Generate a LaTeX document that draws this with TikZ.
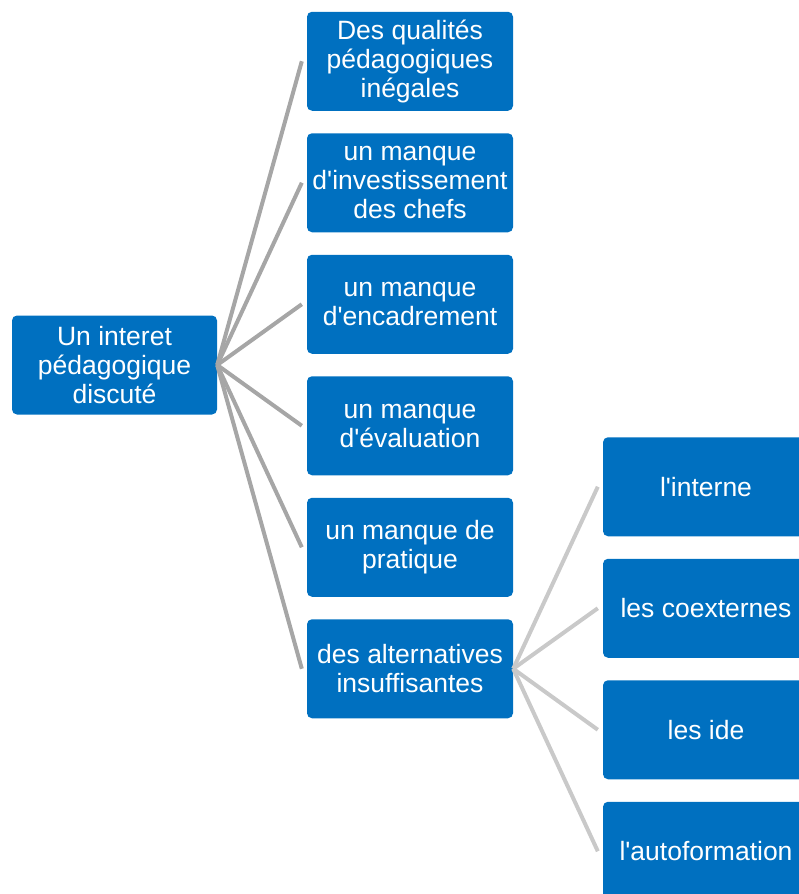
\documentclass[tikz,border=0pt]{standalone}
\usepackage{fontspec}
\setmainfont{Liberation Sans}[Ligatures=TeXOff]
\definecolor{boxblue}{HTML}{0070C0}
\definecolor{lineone}{HTML}{A6A6A6}
\definecolor{linetwo}{HTML}{C9C9C9}
\begin{document}
\begin{tikzpicture}[x=1pt,y=-1pt,
  box/.style={draw=none, fill=boxblue, rounded corners=5pt, minimum width=206pt, minimum height=99pt,
    text=white, align=center, inner sep=0pt, font=\fontsize{26.5pt}{29pt}\selectfont},
  linkone/.style={draw=lineone, line width=4pt},
  linktwo/.style={draw=linetwo, line width=4pt}]
\useasboundingbox (0,0) rectangle (799,894);
\clip (0,0) rectangle (799,894);
\node[box, minimum width=205pt] (root) at (114.5,365) {Un interet\\pédagogique\\discuté};
\node[box] (a1) at (410,61.25) {Des qualités\\pédagogiques\\inégales};
\node[box] (a2) at (410,182.75) {un manque\\d'investissement\\des chefs};
\node[box] (a3) at (410,304.25) {un manque\\d'encadrement};
\node[box] (a4) at (410,425.75) {un manque\\d'évaluation};
\node[box] (a5) at (410,547.25) {un manque de\\pratique};
\node[box] (a6) at (410,668.75) {des alternatives\\insuffisantes};
\node[box] (b1) at (706,486.75) {l'interne};
\node[box] (b2) at (706,608.25) {les coexternes};
\node[box] (b3) at (706,729.75) {les ide};
\node[box] (b4) at (706,851.25) {l'autoformation};
\foreach \n in {a1,a2,a3,a4,a5,a6}
  \draw[linkone] (root.east) -- ([xshift=-5pt]\n.west);
\foreach \n in {b1,b2,b3,b4}
  \draw[linktwo] (a6.east) -- ([xshift=-5pt]\n.west);
\end{tikzpicture}
\end{document}
